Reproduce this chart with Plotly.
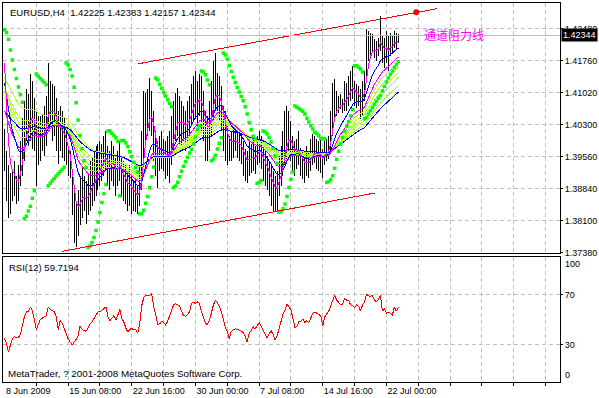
import plotly.graph_objects as go

# ---------------- data ----------------
high = [1.4021,1.3971,1.3937,1.3921,1.3930,1.3948,1.3914,1.3937,1.3994,1.4046,
        1.4085,1.4112,1.4101,1.4146,1.4130,1.4092,1.4062,1.4051,1.4051,1.4055,
        1.4073,1.4096,1.4171,1.4130,1.4124,1.4119,1.4092,1.4062,1.4073,1.4062,
        1.4046,1.4028,1.3978,1.3971,1.3925,1.3891,1.3857,1.3880,1.3914,1.3932,
        1.3914,1.3902,1.3918,1.3948,1.3955,1.3971,1.3982,1.3987,1.3994,1.3987,
        1.4005,1.4016,1.3982,1.3971,1.3994,1.3982,1.3955,1.3971,1.3994,1.3955,
        1.3948,1.3937,1.3925,1.3937,1.3925,1.3902,1.3907,1.3891,1.3937,1.4016,
        1.4108,1.4103,1.4112,1.4137,1.4108,1.4062,1.4016,1.3994,1.4005,1.4016,
        1.3998,1.3994,1.4005,1.4016,1.4051,1.4085,1.4103,1.4114,1.4096,1.4085,
        1.4073,1.4062,1.4085,1.4096,1.4124,1.4142,1.4153,1.4130,1.4146,1.4142,
        1.4108,1.4062,1.4051,1.4085,1.4130,1.4176,1.4194,1.4149,1.4142,1.4119,
        1.4073,1.4062,1.4028,1.4005,1.4016,1.4021,1.4028,1.4016,1.4021,1.4010,
        1.3994,1.3975,1.3971,1.3994,1.3987,1.3998,1.3982,1.4005,1.4016,1.4005,
        1.3982,1.3971,1.3959,1.3948,1.3937,1.3925,1.3914,1.3925,1.3959,1.3982,
        1.4016,1.4062,1.4073,1.4062,1.4039,1.4005,1.3994,1.3998,1.4016,1.3978,
        1.3971,1.3959,1.3982,1.3971,1.3998,1.4010,1.4005,1.3998,1.3994,1.3998,
        1.3975,1.3994,1.3998,1.4005,1.4062,1.4126,1.4135,1.4108,1.4096,1.4101,
        1.4089,1.4130,1.4126,1.4142,1.4153,1.4165,1.4130,1.4124,1.4119,1.4112,
        1.4130,1.4153,1.4249,1.4244,1.4240,1.4238,1.4226,1.4222,1.4228,1.4279,
        1.4233,1.4228,1.4244,1.4233,1.4240,1.4233,1.4244,1.4240,1.42383]

low = [1.3925,1.3857,1.3816,1.3827,1.3857,1.3868,1.3850,1.3857,1.3891,1.3914,
       1.3948,1.3994,1.3982,1.3994,1.3975,1.3971,1.3891,1.3937,1.3948,1.3971,
       1.3959,1.3982,1.4016,1.4023,1.3994,1.4005,1.3971,1.3941,1.3971,1.3955,
       1.3948,1.3937,1.3914,1.3909,1.3823,1.3759,1.3750,1.3777,1.3800,1.3818,
       1.3834,1.3804,1.3823,1.3834,1.3845,1.3857,1.3868,1.3880,1.3891,1.3902,
       1.3914,1.3925,1.3891,1.3880,1.3902,1.3891,1.3868,1.3891,1.3902,1.3864,
       1.3857,1.3850,1.3834,1.3845,1.3827,1.3834,1.3830,1.3827,1.3845,1.3880,
       1.3948,1.3994,1.4005,1.4016,1.4005,1.3948,1.3914,1.3886,1.3925,1.3930,
       1.3925,1.3907,1.3914,1.3896,1.3937,1.3971,1.3994,1.4005,1.3982,1.3982,
       1.3994,1.3971,1.3994,1.4005,1.4028,1.4039,1.4044,1.4028,1.4051,1.4016,
       1.3994,1.3948,1.3948,1.3971,1.4005,1.4039,1.4062,1.4062,1.4039,1.4016,
       1.3971,1.3948,1.3937,1.3948,1.3948,1.3955,1.3971,1.3955,1.3948,1.3941,
       1.3914,1.3902,1.3896,1.3914,1.3921,1.3925,1.3918,1.3937,1.3943,1.3930,
       1.3902,1.3891,1.3880,1.3868,1.3845,1.3834,1.3830,1.3834,1.3868,1.3891,
       1.3914,1.3937,1.3948,1.3971,1.3948,1.3925,1.3914,1.3930,1.3937,1.3914,
       1.3907,1.3898,1.3914,1.3909,1.3925,1.3937,1.3943,1.3930,1.3925,1.3921,
       1.3909,1.3937,1.3948,1.3952,1.3971,1.4005,1.4039,1.4051,1.4057,1.4067,
       1.4057,1.4062,1.4062,1.4073,1.4085,1.4089,1.4073,1.4069,1.4073,1.4044,
       1.4051,1.4085,1.4130,1.4176,1.4187,1.4194,1.4183,1.4176,1.4187,1.4199,
       1.4171,1.4160,1.4171,1.4153,1.4187,1.4192,1.4206,1.4203,1.42157]

rsi = [34.8,30.8,24.2,29.5,35,36,35.5,35.5,38,45.4,
       52,56,56.5,60,57,50,42,46,50,51,
       52,53,60,58,57,56.5,52,42,49,47,
       43,38,34.5,32,29.5,32,34,37,44.6,42,
       41,40.5,43,46.5,48,51,53.5,56,56,57.5,
       58.3,60,52,49,51,53,49.3,53,58,50.5,
       48,43,40,42,43,41.5,42.2,39,47,61,
       67.5,69.2,69.2,69.2,70.5,60,54,46,46.5,48.3,
       47.8,45.5,48.5,53.3,58.5,61.6,62.4,62,60.6,56,
       53,52.5,53.6,56,62.8,63.8,62.6,64,62.8,56.5,
       51,47,45.9,49.3,55,61.5,65.3,63.5,60.3,56.3,
       50.5,43.6,40.5,34.8,40.5,41.8,42.5,42.2,41.7,40.8,
       39.3,36.5,31.9,38.8,41,44.1,42.3,45.2,47.4,44.4,
       40.6,38.2,35.4,38.8,41,38.1,33.6,36.6,42.7,48.8,
       54.1,57.1,62.3,60,57.7,50.6,43.6,44.5,48.2,48.5,
       50.2,47.2,49,47.5,50.8,55,56,55,54.4,52.8,
       45,52,54.5,56.5,61,66,69.2,65.5,63,61.6,
       62.3,66.6,65.5,65.5,61.5,61,59.4,61.5,60.5,57,
       61.5,63.9,70.3,68.7,68.6,69.2,65.2,64.2,65.9,69.2,
       56.5,58.6,54.9,55.6,54.8,53.5,60,56.5,59.7194]

# moving averages: periods and their values at the first bar
ma_periods = [4, 13, 21, 25, 30, 35, 40, 50, 60]
ma_start = [1.4171, 1.4126, 1.4062, 1.4092, 1.4101, 1.4108, 1.4114, 1.4137, 1.4060]
ma_colors = ["#FF00FF", "#0000FF", "#FF00FF", "#ADFF2F", "#ADFF2F",
             "#ADFF2F", "#ADFF2F", "#ADFF2F", "#0000FF"]

sar_start = 1.4247

# channel (bar index, price)
upper_x = [67, 217.5]
upper_y = [1.4169, 1.4295]
upper_dot_x = [207]
upper_dot_y = [1.42866]
lower_x = [29, 186]
lower_y = [1.3741, 1.3874]

price_ticks = [1.3738, 1.3811, 1.3884, 1.3957, 1.4030, 1.4103, 1.4176, 1.4249]
price_labels = ["1.37380", "1.38100", "1.38840", "1.39560", "1.40300",
                "1.41020", "1.41760", "1.42480"]
date_pos = [0, 32, 64, 96, 128, 160, 192]
date_labels = ["8 Jun 2009", "15 Jun 08:00", "22 Jun 16:00", "30 Jun 00:00",
               "7 Jul 08:00", "14 Jul 16:00", "22 Jul 00:00"]
bid = 1.42344
title_text = "EURUSD,H4  1.42225 1.42383 1.42157 1.42344"

# ---------------- derived ----------------
n = len(high)
idx = list(range(n))
median = [(h + l) / 2 for h, l in zip(high, low)]
XR = [-0.75, 279.25]


def ema(vals, period, seed):
    a = 2.0 / (period + 1)
    out = [seed]
    for v in vals[1:]:
        out.append(out[-1] + a * (v - out[-1]))
    return out


def psar(hi, lo, seed, step=0.02, amax=0.2):
    trend = -1
    s = seed
    ep = lo[0]
    af = step
    out = [s]
    for i in range(1, len(hi)):
        s = s + af * (ep - s)
        if trend < 0:
            s = max(s, hi[i - 1], hi[i - 2] if i >= 2 else hi[i - 1])
            if hi[i] > s:
                trend, s, ep, af = 1, ep, hi[i], step
            elif lo[i] < ep:
                ep = lo[i]
                af = min(af + step, amax)
        else:
            s = min(s, lo[i - 1], lo[i - 2] if i >= 2 else lo[i - 1])
            if lo[i] < s:
                trend, s, ep, af = -1, ep, lo[i], step
            elif hi[i] > ep:
                ep = hi[i]
                af = min(af + step, amax)
        out.append(s)
    return out


bx, by = [], []
for i in idx:
    bx += [i, i, None]
    by += [low[i], high[i], None]

fig = go.Figure()
fig.add_trace(go.Scatter(x=bx, y=by, mode="lines", line=dict(color="black", width=1),
                         xaxis="x", yaxis="y", hoverinfo="skip"))

order = [3, 4, 5, 6, 7, 8, 2, 1, 0]
for k in order:
    fig.add_trace(go.Scatter(x=idx, y=ema(median, ma_periods[k], ma_start[k]), mode="lines",
                             line=dict(color=ma_colors[k], width=1), xaxis="x", yaxis="y",
                             hoverinfo="skip"))

fig.add_trace(go.Scatter(x=idx, y=psar(high, low, sar_start), mode="markers",
                         marker=dict(symbol="square", size=3.5, color="#00FF00", line=dict(width=0)),
                         xaxis="x", yaxis="y", hoverinfo="skip"))

fig.add_trace(go.Scatter(x=upper_x, y=upper_y, mode="lines", line=dict(color="#FF0000", width=1),
                         xaxis="x", yaxis="y", hoverinfo="skip"))
fig.add_trace(go.Scatter(x=lower_x, y=lower_y, mode="lines", line=dict(color="#FF0000", width=1),
                         xaxis="x", yaxis="y", hoverinfo="skip"))
fig.add_trace(go.Scatter(x=upper_dot_x, y=upper_dot_y, mode="markers",
                         marker=dict(size=6, color="#FF0000"), xaxis="x", yaxis="y",
                         hoverinfo="skip"))

# bid line
fig.add_trace(go.Scatter(x=XR, y=[bid, bid], mode="lines",
                         line=dict(color="#C0C0C0", width=1), xaxis="x", yaxis="y",
                         hoverinfo="skip"))

fig.add_trace(go.Scatter(x=idx, y=rsi, mode="lines", line=dict(color="#FF0000", width=1),
                         xaxis="x2", yaxis="y2", hoverinfo="skip"))

grid_ticks = list(range(16, 280, 16))
xt = [date_labels[date_pos.index(t)] if t in date_pos else "" for t in grid_ticks]

FONT = "Liberation Sans"
GRID = "#C0C0C0"
common_x = dict(range=XR, tickvals=grid_ticks, showgrid=True, gridcolor=GRID,
                griddash="4px,3px", gridwidth=1, showline=True, mirror=True,
                linecolor="black", linewidth=1, zeroline=False, fixedrange=True)

fig.update_layout(
    width=599, height=398,
    margin=dict(l=2, r=37, t=2, b=16),
    paper_bgcolor="white", plot_bgcolor="white",
    showlegend=False,
    font=dict(family=FONT, size=9, color="black"),
    xaxis=dict(domain=[0, 1], anchor="y", showticklabels=False, ticks="", **common_x),
    yaxis=dict(domain=[0.3413, 1], range=[1.3738, 1.4308], side="right",
               tickvals=price_ticks, ticktext=price_labels, showgrid=True, gridcolor=GRID,
               griddash="4px,3px", showline=True, mirror=True, linecolor="black",
               ticks="outside", ticklen=2, tickcolor="black", zeroline=False,
               tickfont=dict(family=FONT, size=9, color="black")),
    xaxis2=dict(domain=[0, 1], anchor="y2", ticktext=xt, ticks="outside", ticklen=3,
                tickcolor="black", ticklabelposition="outside right",
                tickfont=dict(family=FONT, size=9, color="black"), **common_x),
    yaxis2=dict(domain=[0, 0.3303], range=[0, 100], side="right", tickvals=[30, 70],
                ticktext=["30", "70"], showgrid=True, gridcolor=GRID, griddash="4px,3px",
                showline=True, mirror=True, linecolor="black", ticks="outside", ticklen=2,
                tickcolor="black", zeroline=False,
                tickfont=dict(family=FONT, size=9, color="black")),
)

ann = [
    dict(text=title_text, xref="paper", yref="paper", x=0.009, y=0.976,
         xanchor="left", yanchor="middle", showarrow=False,
         font=dict(family=FONT, size=9.5, color="black")),
    dict(text="RSI(12) 59.7194", xref="paper", yref="paper", x=0.0071, y=0.3034,
         xanchor="left", yanchor="middle", showarrow=False,
         font=dict(family=FONT, size=9.5, color="black")),
    dict(text="MetaTrader, ? 2001-2008 MetaQuotes Software Corp.", xref="paper", yref="paper",
         x=0.0055, y=0.0237, xanchor="left", yanchor="middle", showarrow=False,
         font=dict(family=FONT, size=9.8, color="black")),
    dict(text=date_labels[0], xref="x2", yref="paper", x=date_pos[0], y=-0.006,
         xanchor="left", yanchor="top", showarrow=False,
         font=dict(family=FONT, size=9, color="black")),
    dict(text="100", xref="paper", yref="y2", x=1, y=100, xshift=3, yshift=-7,
         xanchor="left", yanchor="middle", showarrow=False,
         font=dict(family=FONT, size=9, color="black")),
    dict(text="0", xref="paper", yref="y2", x=1, y=0, xshift=3, yshift=7,
         xanchor="left", yanchor="middle", showarrow=False,
         font=dict(family=FONT, size=9, color="black")),
    dict(text="1.42344", xref="paper", yref="y", x=1, y=bid, xshift=1,
         xanchor="left", yanchor="middle", showarrow=False, bgcolor="black", borderpad=1,
         font=dict(family=FONT, size=9, color="white")),
    dict(text="通道阻力线", xref="x", yref="y", x=210, y=1.42353, xanchor="left",
         yanchor="middle", showarrow=False,
         font=dict(family="Noto Sans CJK SC", size=12, color="#FF00FF")),
]
fig.update_layout(annotations=ann)

post = (
    "document.body.style.margin='0px';document.body.style.overflow='hidden';"
    "document.querySelectorAll('.scatterlayer path.js-line').forEach(function(p){"
    "p.style.shapeRendering='crispEdges';});"
)
fig.write_html("out.html", config={"displayModeBar": False}, post_script=post)
